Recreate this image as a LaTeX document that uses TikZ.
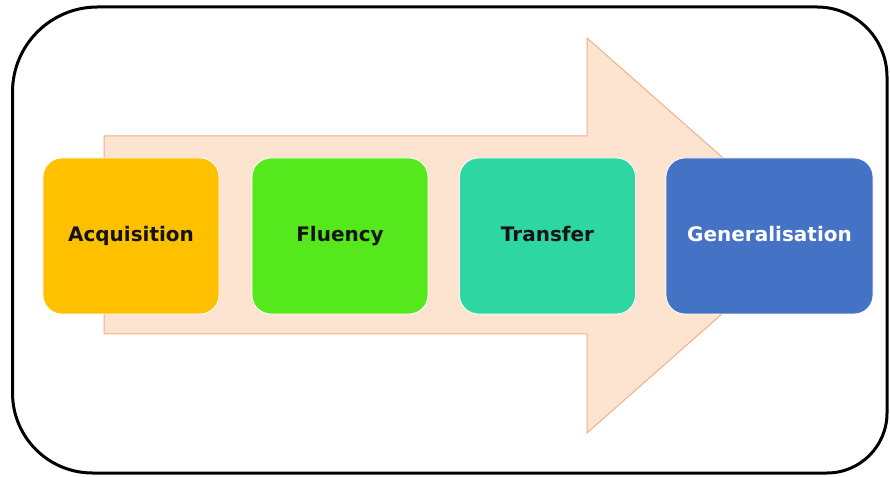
\documentclass[tikz,border=0pt]{standalone}
\usepackage{fontspec}
\setmainfont{DejaVu Sans}
\definecolor{acqc}{HTML}{FFC000}
\definecolor{fluc}{HTML}{55E81C}
\definecolor{trac}{HTML}{2ED6A2}
\definecolor{genc}{HTML}{4472C4}
\definecolor{arrfill}{HTML}{FCE4D0}
\definecolor{arrline}{HTML}{F2B088}
\definecolor{txtc}{HTML}{141414}
\begin{document}
\begin{tikzpicture}[x=1pt,y=1pt,
  stagebox/.style={rounded corners=19pt, minimum height=156pt, inner sep=0pt,
    text height=14.6pt, text depth=4pt,
    font=\fontsize{20}{24}\selectfont\bfseries, text=txtc, draw=white, line width=0.8pt},
  frameline/.style={line width=3pt, draw=black},
  bigarrow/.style={fill=arrfill, draw=arrline, line width=1pt}]
\useasboundingbox (0,0) rectangle (890,476);
% outer frame
\draw[frameline] (12.5,240) -- (12.5,384) arc[start angle=180,end angle=90,radius=85]
  -- (817,469) arc[start angle=90,end angle=0,radius=70]
  -- (887,63) arc[start angle=0,end angle=-90,radius=60]
  -- (92.5,3) arc[start angle=270,end angle=180,radius=80] -- cycle;
% big arrow
\draw[bigarrow] (104,340) -- (587,340) -- (587,438) -- (811,240.5) -- (587,43) -- (587,142) -- (104,142) -- cycle;
% stages
\node[stagebox, fill=acqc, minimum width=176pt] (acq) at (131,240) {Acquisition};
\node[stagebox, fill=fluc, minimum width=176pt] (flu) at (340,240) {Fluency};
\node[stagebox, fill=trac, minimum width=176pt] (tra) at (547.5,240) {Transfer};
\node[stagebox, fill=genc, minimum width=207pt, text=white] (gen) at (769.5,240) {Generalisation};
\end{tikzpicture}
\end{document}
